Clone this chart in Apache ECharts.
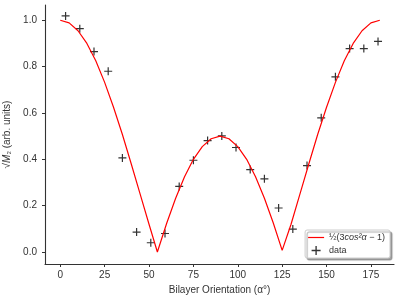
<!DOCTYPE html>
<html>
<head>
<meta charset="utf-8">
<script src="https://cdn.jsdelivr.net/npm/echarts@6/dist/echarts.min.js"></script>
<style>html,body{margin:0;padding:0;background:#fff}#c{width:400px;height:301px}</style>
</head>
<body>
<div id="c"></div>
<script>
// theory curve
var curveX = [0,5,10,15,20,25,30,35,40,45,50,54.7,55,60,65,70,75,80,85,90,95,100,105,110,115,120,125,125.3,130,135,140,145,150,155,160,165,170,175,180];
var curveY = [1.0,0.989,0.955,0.900,0.825,0.732,0.625,0.507,0.380,0.250,0.120,0.0,0.007,0.125,0.232,0.325,0.400,0.455,0.489,0.5,0.489,0.455,0.400,0.325,0.232,0.125,0.007,0.0,0.120,0.250,0.380,0.507,0.625,0.732,0.825,0.900,0.955,0.989,1.0];
// measured data points
var dataX = [3,11,19,27,35,43,51,59,67,75,83,91,99,107,115,123,131,139,147,155,163,171,179];
var dataY = [1.019,0.964,0.865,0.780,0.406,0.086,0.040,0.080,0.283,0.396,0.481,0.501,0.451,0.356,0.316,0.190,0.099,0.373,0.579,0.756,0.878,0.878,0.909];
var xTicks = [0,25,50,75,100,125,150,175];
var yTicks = [0,0.2,0.4,0.6,0.8,1.0];

var zip = function(a,b){return a.map(function(v,i){return [v,b[i]];});};
var txt = '#333';
var chart = echarts.init(document.getElementById('c'));
chart.setOption({
  animation:false,
  textStyle:{fontFamily:'Liberation Sans'},
  grid:{left:45,right:6,top:5,bottom:37,containLabel:false,outerBoundsMode:'none'},
  xAxis:{type:'value',min:-8.6,max:188,
    name:'Bilayer Orientation (α°)',nameLocation:'middle',nameGap:18,
    nameTextStyle:{fontSize:10,color:txt,fontFamily:'Liberation Sans'},
    axisLine:{onZero:false,lineStyle:{color:'#333',width:1.1}},
    axisTick:{show:true,length:3,customValues:xTicks,lineStyle:{color:'#333'}},
    axisLabel:{customValues:xTicks,fontSize:10,color:txt,margin:6},
    splitLine:{show:false}},
  yAxis:{type:'value',min:-0.0517,max:1.066,
    name:'{s|√}{m|M}{n|₂} (arb. units)',nameLocation:'middle',nameGap:24,nameRotate:90,
    nameTextStyle:{fontSize:10,color:txt,rich:{s:{fontSize:10,color:txt},m:{fontSize:10,fontStyle:'italic',color:txt},n:{fontSize:9,color:txt}}},
    axisLine:{show:true,onZero:false,lineStyle:{color:'#333',width:1.1}},
    axisTick:{show:true,length:3,customValues:yTicks,lineStyle:{color:'#333'}},
    axisLabel:{customValues:yTicks,fontSize:10,color:txt,margin:8,formatter:function(v){return v.toFixed(1);}},
    splitLine:{show:false}},
  legend:{orient:'vertical',right:10,bottom:43,
    backgroundColor:'#fff',borderColor:'#ccc',borderWidth:1,borderRadius:2,
    shadowColor:'rgba(0,0,0,0.35)',shadowOffsetX:2,shadowOffsetY:2,shadowBlur:1,
    padding:[3,5,3,3],itemGap:4,itemWidth:16,itemHeight:9,
    textStyle:{fontSize:9,color:txt,rich:{a:{fontSize:9,color:txt},i:{fontSize:9,fontStyle:'italic',color:txt}}},
    formatter:function(n){ if(n==='theory') return '{a|½(3}{i|cos²α}{a| − 1)}'; return n; },
    data:[{name:'theory',icon:'path://M0,4.4H16V5.6H0Z'},{name:'data'}]},
  series:[
    {name:'theory',type:'line',data:zip(curveX,curveY),symbol:'none',
      lineStyle:{color:'#ff0000',width:1.2},itemStyle:{color:'#ff0000'}},
    {name:'data',type:'scatter',data:zip(dataX,dataY),
      symbol:'path://M0,3.4H8V4.6H0Z M3.4,0H4.6V8H3.4Z',symbolSize:8,
      itemStyle:{color:'#000'}}
  ]
});
</script>
</body>
</html>
